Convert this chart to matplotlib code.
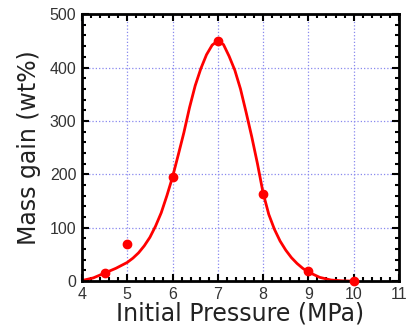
import matplotlib
matplotlib.use('Agg')
import matplotlib.pyplot as plt
from matplotlib.ticker import MultipleLocator

# measured points
pressure = [4.5, 5, 6, 7, 8, 9, 10]
mass_gain = [15, 70, 195, 450, 163, 18, 0]

# fitted curve
curve_x = [4.0, 4.25, 4.5, 4.75, 5.0, 5.125, 5.25, 5.375, 5.5, 5.625, 5.75, 5.875,
           6.0, 6.125, 6.25, 6.375, 6.5, 6.625, 6.75, 6.875, 7.0,
           7.125, 7.25, 7.375, 7.5, 7.625, 7.75, 7.875, 8.0,
           8.125, 8.25, 8.375, 8.5, 8.625, 8.75, 8.875, 9.0, 9.25, 9.5, 9.75, 10.0]
curve_y = [1, 6, 15, 24, 35, 43, 53, 66, 82, 103, 128, 160,
           195, 236, 278, 325, 366, 398, 424, 442, 450,
           443, 421, 395, 360, 316, 270, 220, 165,
           125, 97, 75, 58, 44, 33, 24, 17, 7, 2, 0.5, 0]

fig = plt.figure(figsize=(4.1, 3.28), dpi=100)
ax = fig.add_axes([0.2, 0.143, 0.773, 0.814])

ax.plot(curve_x, curve_y, color='#ff0000', lw=2)
ax.plot(pressure, mass_gain, 'o', color='#ff0000', ms=6, clip_on=False, zorder=5)

ax.set_xlim(4, 11)
ax.set_ylim(0, 500)
ax.xaxis.set_major_locator(MultipleLocator(1))
ax.xaxis.set_minor_locator(MultipleLocator(0.2))
ax.yaxis.set_major_locator(MultipleLocator(100))
ax.yaxis.set_minor_locator(MultipleLocator(20))
ax.grid(True, which='major', color='#8888ee', ls=':', lw=0.9)

for s in ax.spines.values():
    s.set_linewidth(2)
ax.tick_params(which='both', direction='in', top=True, right=True, width=1.5,
               labelsize=11.5, labelcolor='#333333', pad=4)
ax.tick_params(which='major', length=5)
ax.tick_params(which='minor', length=3)
for lab in ax.get_xticklabels() + ax.get_yticklabels():
    lab.set_family('Liberation Sans')

ax.set_xlabel('Initial Pressure (MPa)', fontsize=17, labelpad=0, color='#222222')
ax.set_ylabel('Mass gain (wt%)', fontsize=17, labelpad=6, color='#222222')

fig.savefig('out.png', dpi=100)
